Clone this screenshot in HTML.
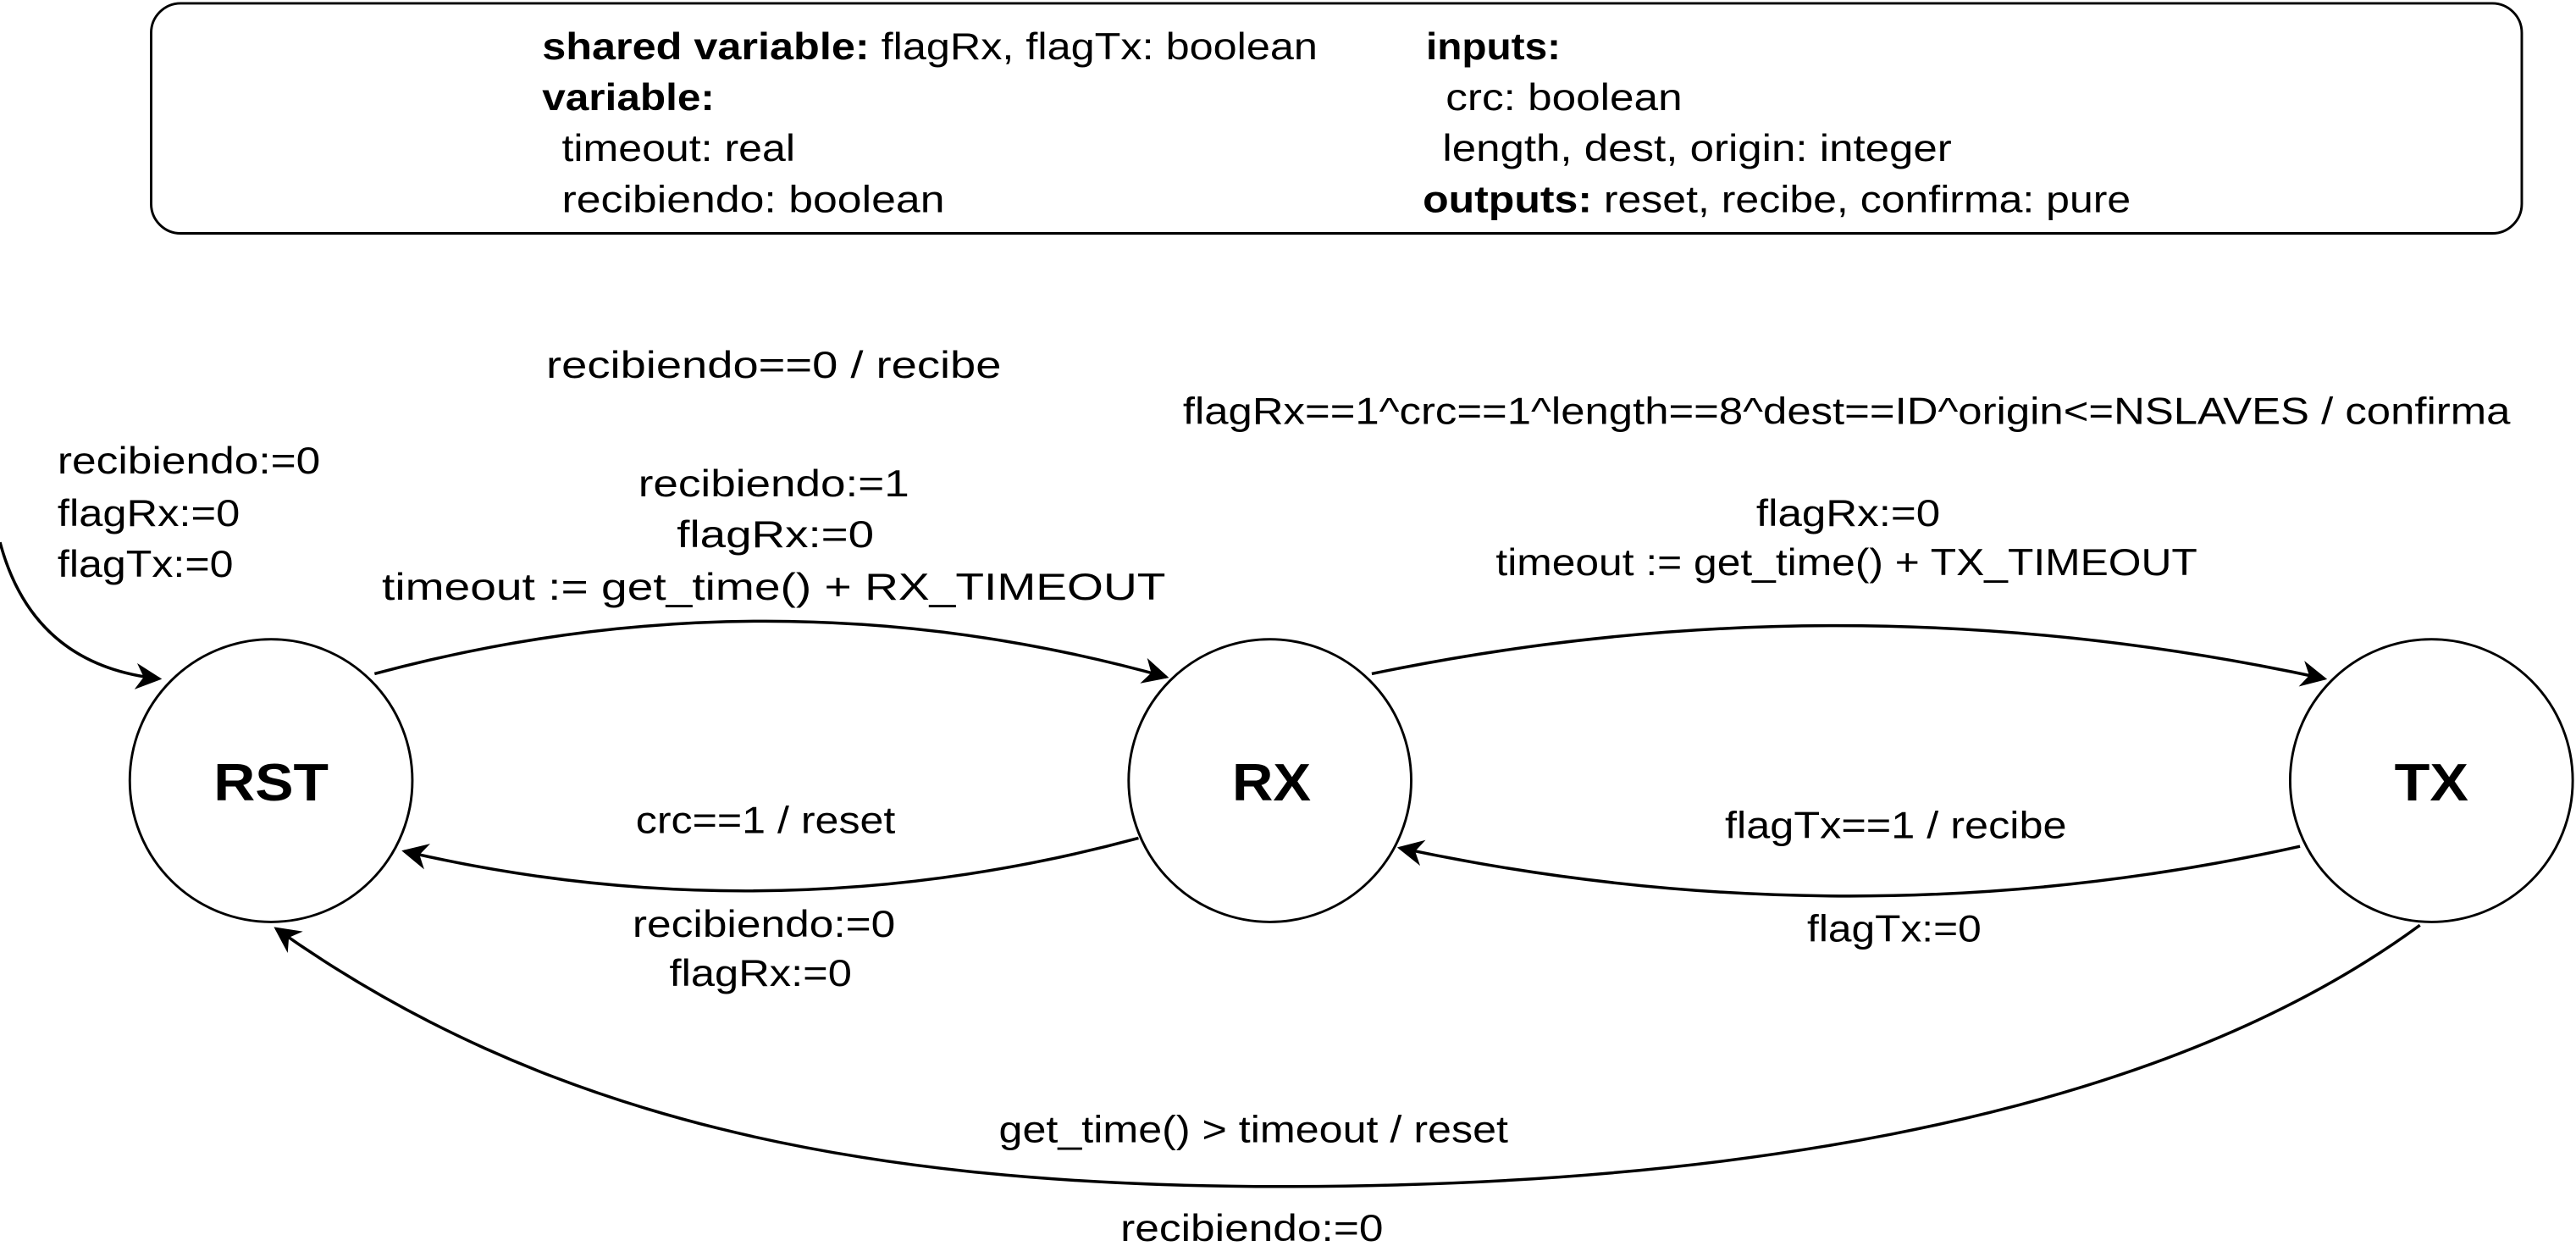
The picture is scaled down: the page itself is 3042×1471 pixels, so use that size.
<!DOCTYPE html>
<html><head><meta charset="utf-8"><style>
html,body{margin:0;padding:0;background:#fff;width:3042px;height:1471px;overflow:hidden}
svg{display:block}
text{font-family:"Liberation Sans",sans-serif;font-size:23px;fill:#000}
.b{font-weight:bold}
.c{text-anchor:middle}
</style></head><body>
<svg width="3042" height="1471" viewBox="0 0 1568 758.2" xmlns="http://www.w3.org/2000/svg">
<defs><marker id="a" viewBox="0 0 10 10" refX="9" refY="5" markerWidth="16" markerHeight="16" markerUnits="userSpaceOnUse" orient="auto"><path d="M0,0 L10,5 L0,10 L3,5 z" fill="#000"/></marker></defs>
<rect x="92" y="2" width="1443" height="140" rx="18" fill="none" stroke="#000" stroke-width="1.5"/>
<text x="330" y="36" textLength="472" lengthAdjust="spacingAndGlyphs"><tspan class="b">shared variable:</tspan> flagRx, flagTx: boolean</text>
<text x="330" y="67" class="b" textLength="105" lengthAdjust="spacingAndGlyphs">variable:</text>
<text x="342" y="98" textLength="142" lengthAdjust="spacingAndGlyphs">timeout: real</text>
<text x="342" y="129" textLength="233" lengthAdjust="spacingAndGlyphs">recibiendo: boolean</text>
<text x="868" y="36" class="b" textLength="82" lengthAdjust="spacingAndGlyphs">inputs:</text>
<text x="880" y="67" textLength="144" lengthAdjust="spacingAndGlyphs">crc: boolean</text>
<text x="878" y="98" textLength="310" lengthAdjust="spacingAndGlyphs">length, dest, origin: integer</text>
<text x="866" y="129" textLength="431" lengthAdjust="spacingAndGlyphs"><tspan class="b">outputs:</tspan> reset, recibe, confirma: pure</text>

<g fill="#fff" stroke="#000" stroke-width="1.5">
<circle cx="165" cy="475" r="86"/>
<circle cx="773" cy="475" r="86"/>
<circle cx="1480" cy="475" r="86"/>
</g>
<text x="165" y="487" class="b c" style="font-size:32px" textLength="70" lengthAdjust="spacingAndGlyphs">RST</text>
<text x="774" y="487" class="b c" style="font-size:32px" textLength="48" lengthAdjust="spacingAndGlyphs">RX</text>
<text x="1480" y="487" class="b c" style="font-size:32px" textLength="45" lengthAdjust="spacingAndGlyphs">TX</text>

<g fill="none" stroke="#000" stroke-width="1.8" marker-end="url(#a)">
<path d="M0,330 Q20,405 97,413"/>
<path d="M228,410 Q470,345 710,412"/>
<path d="M835,410 Q1125,350 1415,413"/>
<path d="M693,510 Q470,570 246,518"/>
<path d="M1400,515 Q1130,575 852,516"/>
<path d="M1473,563 C1300,690 1020,722 780,722 C520,722 330,680 168,565"/>
</g>

<g lengthAdjust="spacingAndGlyphs">
<text x="471" y="230" class="c" textLength="277" lengthAdjust="spacingAndGlyphs">recibiendo==0 / recibe</text>
<text x="720" y="258" textLength="808" lengthAdjust="spacingAndGlyphs">flagRx==1^crc==1^length==8^dest==ID^origin&lt;=NSLAVES / confirma</text>
<text x="35" y="288" textLength="160" lengthAdjust="spacingAndGlyphs">recibiendo:=0</text>
<text x="35" y="320" textLength="111" lengthAdjust="spacingAndGlyphs">flagRx:=0</text>
<text x="35" y="351" textLength="107" lengthAdjust="spacingAndGlyphs">flagTx:=0</text>
<text x="471" y="302" class="c" textLength="165" lengthAdjust="spacingAndGlyphs">recibiendo:=1</text>
<text x="472" y="333" class="c" textLength="120" lengthAdjust="spacingAndGlyphs">flagRx:=0</text>
<text x="471" y="365" class="c" textLength="477" lengthAdjust="spacingAndGlyphs">timeout := get_time() + RX_TIMEOUT</text>
<text x="1125" y="320" class="c" textLength="112" lengthAdjust="spacingAndGlyphs">flagRx:=0</text>
<text x="1124" y="350" class="c" textLength="427" lengthAdjust="spacingAndGlyphs">timeout := get_time() + TX_TIMEOUT</text>
<text x="466" y="507" class="c" textLength="158" lengthAdjust="spacingAndGlyphs">crc==1 / reset</text>
<text x="1154" y="510" class="c" textLength="208" lengthAdjust="spacingAndGlyphs">flagTx==1 / recibe</text>
<text x="465" y="570" class="c" textLength="160" lengthAdjust="spacingAndGlyphs">recibiendo:=0</text>
<text x="463" y="600" class="c" textLength="111" lengthAdjust="spacingAndGlyphs">flagRx:=0</text>
<text x="1153" y="573" class="c" textLength="106" lengthAdjust="spacingAndGlyphs">flagTx:=0</text>
<text x="763" y="695" class="c" textLength="310" lengthAdjust="spacingAndGlyphs">get_time() &gt; timeout / reset</text>
<text x="762" y="755" class="c" textLength="160" lengthAdjust="spacingAndGlyphs">recibiendo:=0</text>
</g>
</svg>
</body></html>
